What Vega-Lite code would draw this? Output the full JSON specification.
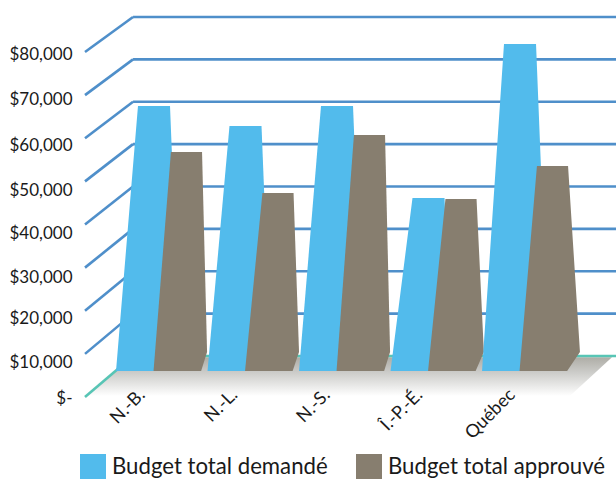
{"$schema":"https://vega.github.io/schema/vega-lite/v6.json","width":531,"height":479,"autosize":{"type":"none"},"padding":{"left":85,"top":0,"right":0,"bottom":0},"background":"white","config":{"view":{"stroke":null},"font":"Lato"},"datasets":{"budgets":[{"province":"N.-B.","serie":"Budget total demandé","valeur":62540},{"province":"N.-B.","serie":"Budget total approuvé","valeur":51680},{"province":"N.-L.","serie":"Budget total demandé","valeur":57820},{"province":"N.-L.","serie":"Budget total approuvé","valeur":42000},{"province":"N.-S.","serie":"Budget total demandé","valeur":62540},{"province":"N.-S.","serie":"Budget total approuvé","valeur":55690},{"province":"Î.-P.-É.","serie":"Budget total demandé","valeur":40830},{"province":"Î.-P.-É.","serie":"Budget total approuvé","valeur":40590},{"province":"Québec","serie":"Budget total demandé","valeur":77170},{"province":"Québec","serie":"Budget total approuvé","valeur":48380}],"reperes":[{"valeur":0},{"valeur":10000},{"valeur":20000},{"valeur":30000},{"valeur":40000},{"valeur":50000},{"valeur":60000},{"valeur":70000},{"valeur":80000}],"plans":[{"plan":"arriere"},{"plan":"devant"}]},"layer":[{"layer":[{"data":{"name":"plans"},"transform":[{"calculate":"datum.plan==='arriere'?-300:-9440","as":"py"},{"calculate":"datum.plan==='arriere'?0.186:-0.339","as":"pg"},{"calculate":"datum.plan==='arriere'?5.42:4.96","as":"pd"}],"mark":{"type":"area","orient":"horizontal","fillOpacity":1,"fill":{"gradient":"linear","x1":0,"y1":0,"x2":0,"y2":1,"stops":[{"offset":0,"color":"#aeada6"},{"offset":0.38,"color":"#cbcbc8"},{"offset":1,"color":"#ffffff"}]}},"encoding":{"y":{"field":"py","type":"quantitative","scale":{"domain":[-29027,84012],"nice":false,"zero":false},"axis":null},"x":{"field":"pg","type":"quantitative","scale":{"domain":[-0.339,5.464],"nice":false,"zero":false},"axis":null,"stack":null},"x2":{"field":"pd"}}},{"data":{"name":"reperes"},"mark":{"type":"rule","strokeWidth":2.6},"encoding":{"x":{"datum":0.186,"type":"quantitative","axis":null},"x2":{"datum":5.464},"y":{"field":"valeur","type":"quantitative","axis":null},"color":{"condition":{"test":"datum.valeur===0","value":"#58c5b5"},"value":"#4f8fca"}}},{"data":{"name":"reperes"},"transform":[{"calculate":"datum.valeur-(41-6*datum.valeur/80000)/0.0042375","as":"pointe"}],"mark":{"type":"rule","strokeWidth":2.6},"encoding":{"x":{"datum":-0.339,"type":"quantitative","axis":null},"x2":{"datum":0.186},"y":{"field":"pointe","type":"quantitative","axis":null},"y2":{"field":"valeur"},"color":{"condition":{"test":"datum.valeur===0","value":"#58c5b5"},"value":"#4f8fca"}}},{"data":{"name":"budgets"},"transform":[{"calculate":"[0,1,2]","as":"pt"},{"flatten":["pt"]},{"calculate":"indexof(['N.-B.','N.-L.','N.-S.','Î.-P.-É.','Québec'],datum.province)","as":"rang"},{"calculate":"datum.serie==='Budget total demandé'","as":"bleu"},{"calculate":"datum.valeur-3540","as":"haut"},{"calculate":"datum.pt===0?-3540:(datum.pt===1?944:datum.haut)","as":"py"},{"calculate":"(datum.py+3540)/(datum.haut+3540)","as":"f"},{"calculate":"datum.rang+(datum.bleu?0.24*datum.f:0.41+0.19*datum.f)","as":"xg"},{"calculate":"datum.rang+(datum.bleu?(datum.pt===0?0.41:(datum.pt===1?0.59+(datum.haut-944)*0.00000185:0.59)):(datum.pt===0?0.93:(datum.pt===1?[0.995,1.0,0.995,1.02,1.07][datum.rang]:0.94)))","as":"xd"}],"mark":{"type":"area","orient":"horizontal"},"encoding":{"y":{"field":"py","type":"quantitative","axis":null},"x":{"field":"xg","type":"quantitative","axis":null,"stack":null},"x2":{"field":"xd"},"detail":{"field":"province"},"color":{"field":"serie","type":"nominal","scale":{"domain":["Budget total demandé","Budget total approuvé"],"range":["#52bbec","#877e6f"]},"legend":{"title":null,"orient":"none","legendX":-5,"legendY":454,"direction":"horizontal","columns":2,"symbolType":"square","symbolSize":676,"symbolStrokeWidth":0,"symbolOpacity":1,"labelFont":"Lato","labelFontSize":22.2,"labelColor":"#1a1a1a","labelOffset":6,"columnPadding":28,"padding":0,"labelLimit":400}}}}]},{"data":{"name":"reperes"},"mark":{"type":"point","opacity":0},"encoding":{"y":{"field":"valeur","type":"quantitative","scale":{"domain":[0,10000,20000,30000,40000,50000,60000,70000,80000],"range":[398,362,318,277,233,190,145,99,54],"nice":false,"zero":false},"axis":{"title":null,"orient":"left","values":[0,10000,20000,30000,40000,50000,60000,70000,80000],"labelExpr":"datum.value===0?'$-':format(datum.value,'$,.0f')","domain":false,"ticks":false,"grid":false,"labelPadding":13,"labelFont":"Lato","labelFontSize":17,"labelColor":"#1a1a1a","labelOverlap":false}}}},{"data":{"name":"budgets"},"mark":{"type":"point","opacity":0},"encoding":{"x":{"field":"province","type":"nominal","sort":null,"scale":{"type":"point","padding":0,"domain":["N.-B.","N.-L.","N.-S.","Î.-P.-É.","Québec"],"range":[57,427]},"axis":{"title":null,"orient":"bottom","offset":-87,"labelAngle":-45,"labelAlign":"right","labelBaseline":"middle","labelPadding":0,"domain":false,"ticks":false,"grid":false,"zindex":1,"labelFont":"Lato","labelFontSize":18,"labelColor":"#1a1a1a","labelOverlap":false}}}}],"resolve":{"scale":{"x":"independent","y":"independent","color":"independent"}}}
